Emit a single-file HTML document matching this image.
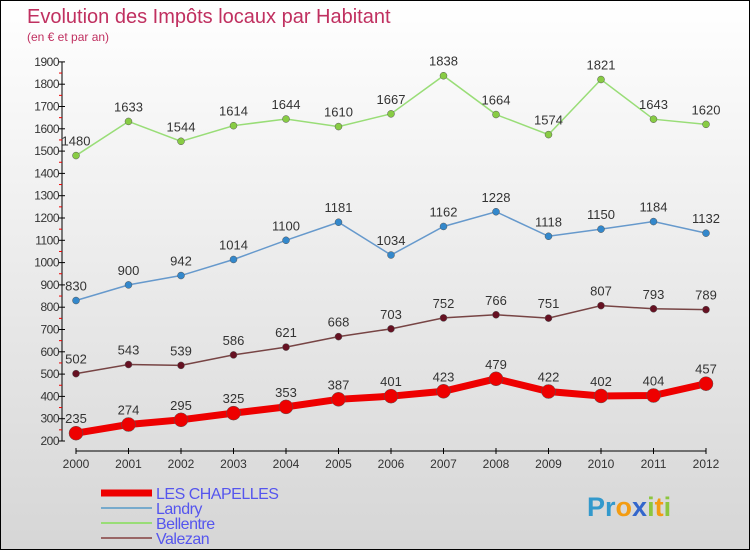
<!DOCTYPE html>
<html><head><meta charset="utf-8"><style>
body{margin:0}
#c{position:relative;width:748px;height:548px;border:1px solid #000;background:linear-gradient(#fff,#d6d6d6);font-family:"Liberation Sans",sans-serif;overflow:hidden}
svg text{font-family:"Liberation Sans",sans-serif}
</style></head><body>
<div id="c">
<svg id="s" width="748" height="548">
<text x="26" y="22" font-size="20" fill="#c03060">Evolution des Impôts locaux par Habitant</text>
<text x="26" y="40" font-size="12" fill="#c03060">(en € et par an)</text>
<g id="g"></g>
<text x="586" y="515" font-size="27" font-weight="bold" fill="#3399cc">Pr<tspan fill="#f39c12">o</tspan><tspan fill="#3366cc">x</tspan><tspan fill="#8cc63f">i</tspan><tspan fill="#f39c12">t</tspan><tspan fill="#8cc63f">i</tspan></text>
</svg>
</div>
<script>
const years=[2000,2001,2002,2003,2004,2005,2006,2007,2008,2009,2010,2011,2012];
const yTicks=[200,300,400,500,600,700,800,900,1000,1100,1200,1300,1400,1500,1600,1700,1800,1900];
const seriesNames=["LES CHAPELLES","Landry","Bellentre","Valezan"];
const chapelles=[235,274,295,325,353,387,401,423,479,422,402,404,457];
const landry=[830,900,942,1014,1100,1181,1034,1162,1228,1118,1150,1184,1132];
const bellentre=[1480,1633,1544,1614,1644,1610,1667,1838,1664,1574,1821,1643,1620];
const valezan=[502,543,539,586,621,668,703,752,766,751,807,793,789];
const NS="http://www.w3.org/2000/svg";
const g=document.getElementById('g');
const X=i=>75+i*52.5, Y=v=>440-(v-200)*22.3/100;
function mk(t,a){const e=document.createElementNS(NS,t);for(const k in a)e.setAttribute(k,a[k]);g.appendChild(e);return e;}
let e=mk('line',{x1:61,y1:Y(200),x2:61,y2:Y(1900),stroke:'#000'});

e=mk('line',{x1:75,y1:450,x2:705,y2:450,stroke:'#000'});

yTicks.forEach((v,i)=>{
 e=mk('line',{x1:58,x2:64,y1:Y(v),y2:Y(v),stroke:'#000'});
 
 if(i<yTicks.length-1){e=mk('line',{x1:58,x2:61,y1:Y(v+50),y2:Y(v+50),stroke:'#e00'});
 }
 e=mk('text',{x:58,y:Y(v)+4,'font-size':12,'text-anchor':'end',fill:'#333','letter-spacing':'-0.5'});e.textContent=v;
 
});
years.forEach((y,i)=>{
 e=mk('line',{x1:X(i),x2:X(i),y1:447,y2:453,stroke:'#000'});
 
 e=mk('text',{x:X(i),y:467,'font-size':12,'text-anchor':'middle',fill:'#333'});e.textContent=y;
 
});
function series(d,col,dot,w,r,name){
 e=mk('polyline',{points:d.map((v,i)=>X(i)+','+Y(v)).join(' '),fill:'none',stroke:col,'stroke-width':w});
 
 d.forEach((v,i)=>{
  e=mk('circle',{cx:X(i),cy:Y(v),r:r,fill:dot,stroke:'#555','stroke-width':0.5});
  
  e=mk('text',{x:X(i),y:Y(v)-10,'font-size':13,'text-anchor':'middle',fill:'#333'});e.textContent=v;
  
 });
}
series(bellentre,'#99dd77','#88cc44',1.5,3.5,'bellentre');
series(landry,'#6699cc','#3388cc',1.5,3.5,'landry');
series(valezan,'#774444','#661122',1.5,3.5,'valezan');
series(chapelles,'#ee0000','#ee0000',7,7,'chapelles');
const legCols=['#ee0000','#77aacc','#99dd77','#996666'],legW=[7,2,2,2];
seriesNames.forEach((n,i)=>{
 const y=492+i*15;
 e=mk('line',{x1:100,x2:151,y1:y,y2:y,stroke:legCols[i],'stroke-width':legW[i]});
 
 e=mk('text',{x:155,y:y+6,'font-size':16,fill:'#5555ee','letter-spacing':'-0.5'});e.textContent=n;
 
});
</script>
</body></html>
